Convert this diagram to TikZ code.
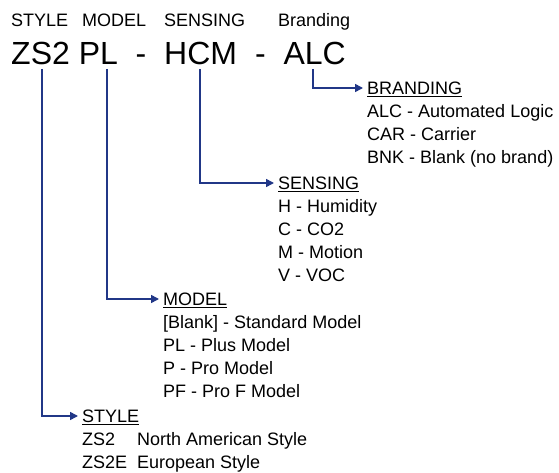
\documentclass[tikz,border=0pt]{standalone}
\usepackage{fontspec}
\setmainfont{Liberation Sans}
\usetikzlibrary{arrows.meta, positioning, calc}
\definecolor{linkblue}{RGB}{33,55,135}

\tikzset{
  head/.style={anchor=base west, inner sep=0pt, font=\fontsize{18bp}{22bp}\selectfont},
  code/.style={anchor=base west, inner sep=0pt, font=\fontsize{32bp}{38bp}\selectfont},
  title/.style={anchor=west, inner xsep=4bp, inner ysep=0pt, text height=12.9bp, text depth=0pt, font=\fontsize{18bp}{22bp}\selectfont},
  item/.style={anchor=west, inner sep=0pt, text height=12.9bp, text depth=0pt, font=\fontsize{18bp}{22bp}\selectfont},
  link/.style={linkblue, line width=1.5bp, -{Triangle[length=8bp,width=8bp]}}
}

\begin{document}
\begin{tikzpicture}[x=1bp, y=-1bp]
		\useasboundingbox (0,0) rectangle (559,473);

		% Field headings
		\node[head] (h-style) at (11,26.5) {STYLE};
		\node[head] (h-model) at (82,26.5) {MODEL};
		\node[head] (h-sens) at (164,26.5) {SENSING};
		\node[head] (h-brand) at (278,26.5) {Branding};

		% Part number
		\node[code] (c-style) at (11,65) {ZS2};
		\node[code] (c-model) at (78.6,65) {PL};
		\node[code] (c-dash1) at (135.5,65) {-};
		\node[code] (c-sens) at (164,65) {HCM};
		\node[code] (c-dash2) at (254.8,65) {-};
		\node[code] (c-brand) at (283.3,65) {ALC};

		\coordinate (p-style) at (42,69);
		\coordinate (p-model) at (107,69);
		\coordinate (p-sens) at (200,69);
		\coordinate (p-brand) at (313,69);

		% Branding
		\node[title] (brand) at (363,88) {\underline{BRANDING}};
		\node[item] (brand-1) at (367,111) {ALC - Automated Logic};
		\node[item] (brand-2) at (367,134) {CAR - Carrier};
		\node[item] (brand-3) at (367,157) {BNK - Blank (no brand)};

		% Sensing
		\node[title] (sens) at (274,183) {\underline{SENSING}};
		\node[item] (sens-1) at (278,206) {H - Humidity};
		\node[item] (sens-2) at (278,229) {C - CO2};
		\node[item] (sens-3) at (278,252) {M - Motion};
		\node[item] (sens-4) at (278,275) {V - VOC};

		% Model
		\node[title] (model) at (159,299) {\underline{MODEL}};
		\node[item] (model-1) at (163,322) {[Blank] - Standard Model};
		\node[item] (model-2) at (163,345) {PL - Plus Model};
		\node[item] (model-3) at (163,368) {P - Pro Model};
		\node[item] (model-4) at (163,391) {PF - Pro F Model};

		% Style
		\node[title] (style) at (78,416) {\underline{STYLE}};
		\node[item] (style-1) at (82,439) {ZS2};
		\node[item] (style-1d) at (137,439) {North American Style};
		\node[item] (style-2) at (82,462) {ZS2E};
		\node[item] (style-2d) at (137,462) {European Style};

		\draw[link] (p-brand) |- (brand.west);
		\draw[link] (p-sens) |- (sens.west);
		\draw[link] (p-model) |- (model.west);
		\draw[link] (p-style) |- (style.west);
\end{tikzpicture}
\end{document}
